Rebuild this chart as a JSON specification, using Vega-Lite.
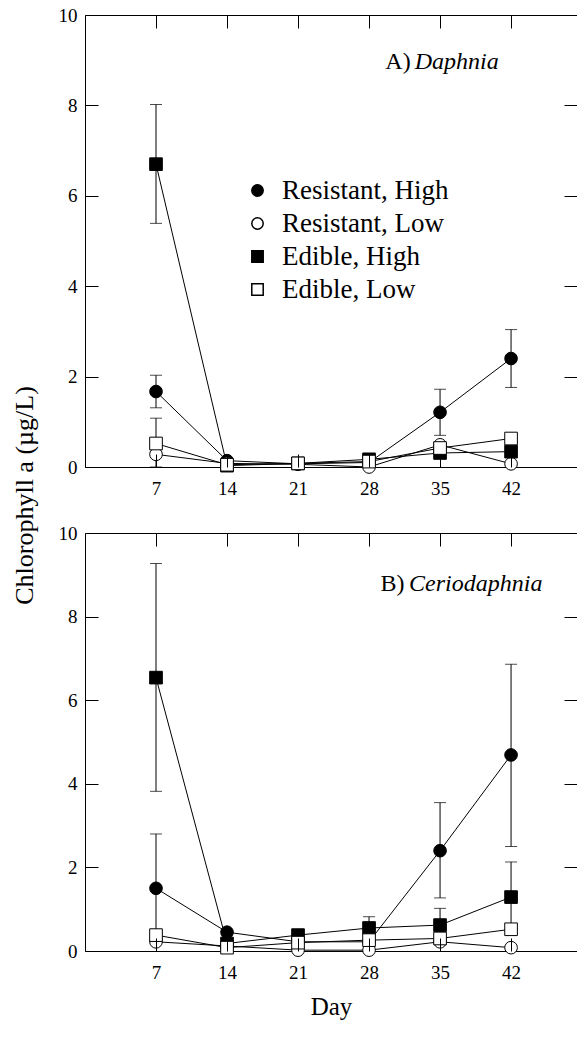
{
  "$schema": "https://vega.github.io/schema/vega-lite/v6.json",
  "background": "white",
  "padding": {"left": 10, "top": 5, "right": 0, "bottom": 5},
  "bounds": "flush",
  "spacing": 66,
  "config": {
    "view": {"stroke": "black", "strokeWidth": 1},
    "axis": {
      "grid": false,
      "domain": false,
      "tickColor": "black",
      "labelColor": "black",
      "titleColor": "black",
      "labelFont": "Liberation Serif",
      "titleFont": "Liberation Serif",
      "labelFontSize": 19,
      "titleFontSize": 26,
      "titleFontWeight": "normal"
    },
    "text": {"font": "Liberation Serif", "color": "black"}
  },
  "datasets": {
    "daphnia": [
      {"day": 7, "group": "Resistant, High", "value": 1.67, "lo": 1.31, "hi": 2.03},
      {"day": 14, "group": "Resistant, High", "value": 0.14},
      {"day": 21, "group": "Resistant, High", "value": 0.07},
      {"day": 28, "group": "Resistant, High", "value": 0.1},
      {"day": 35, "group": "Resistant, High", "value": 1.21, "lo": 0.7, "hi": 1.72},
      {"day": 42, "group": "Resistant, High", "value": 2.4, "lo": 1.76, "hi": 3.04},
      {"day": 7, "group": "Resistant, Low", "value": 0.28},
      {"day": 14, "group": "Resistant, Low", "value": 0.08},
      {"day": 21, "group": "Resistant, Low", "value": 0.06},
      {"day": 28, "group": "Resistant, Low", "value": 0.0},
      {"day": 35, "group": "Resistant, Low", "value": 0.49},
      {"day": 42, "group": "Resistant, Low", "value": 0.07},
      {"day": 7, "group": "Edible, High", "value": 6.7, "lo": 5.39, "hi": 8.02},
      {"day": 14, "group": "Edible, High", "value": 0.03},
      {"day": 21, "group": "Edible, High", "value": 0.08},
      {"day": 28, "group": "Edible, High", "value": 0.17},
      {"day": 35, "group": "Edible, High", "value": 0.31},
      {"day": 42, "group": "Edible, High", "value": 0.34},
      {"day": 7, "group": "Edible, Low", "value": 0.52, "lo": 0.0, "hi": 1.08},
      {"day": 14, "group": "Edible, Low", "value": 0.05},
      {"day": 21, "group": "Edible, Low", "value": 0.08},
      {"day": 28, "group": "Edible, Low", "value": 0.12},
      {"day": 35, "group": "Edible, Low", "value": 0.42},
      {"day": 42, "group": "Edible, Low", "value": 0.63}
    ],
    "cerio": [
      {"day": 7, "group": "Resistant, High", "value": 1.5, "lo": 0.22, "hi": 2.8},
      {"day": 14, "group": "Resistant, High", "value": 0.45},
      {"day": 21, "group": "Resistant, High", "value": 0.22},
      {"day": 28, "group": "Resistant, High", "value": 0.22},
      {"day": 35, "group": "Resistant, High", "value": 2.4, "lo": 1.27, "hi": 3.55},
      {"day": 42, "group": "Resistant, High", "value": 4.69, "lo": 2.5, "hi": 6.86},
      {"day": 7, "group": "Resistant, Low", "value": 0.22},
      {"day": 14, "group": "Resistant, Low", "value": 0.12},
      {"day": 21, "group": "Resistant, Low", "value": 0.02},
      {"day": 28, "group": "Resistant, Low", "value": 0.02},
      {"day": 35, "group": "Resistant, Low", "value": 0.22},
      {"day": 42, "group": "Resistant, Low", "value": 0.08},
      {"day": 7, "group": "Edible, High", "value": 6.54, "lo": 3.82, "hi": 9.27},
      {"day": 14, "group": "Edible, High", "value": 0.18},
      {"day": 21, "group": "Edible, High", "value": 0.38},
      {"day": 28, "group": "Edible, High", "value": 0.55, "lo": 0.28, "hi": 0.82},
      {"day": 35, "group": "Edible, High", "value": 0.62, "lo": 0.24, "hi": 1.02},
      {"day": 42, "group": "Edible, High", "value": 1.29, "lo": 0.45, "hi": 2.13},
      {"day": 7, "group": "Edible, Low", "value": 0.38},
      {"day": 14, "group": "Edible, Low", "value": 0.08},
      {"day": 21, "group": "Edible, Low", "value": 0.2},
      {"day": 28, "group": "Edible, Low", "value": 0.26},
      {"day": 35, "group": "Edible, Low", "value": 0.3},
      {"day": 42, "group": "Edible, Low", "value": 0.52}
    ]
  },
  "resolve": {"scale": {"shape": "independent", "fill": "independent"}},
  "vconcat": [
    {
      "width": 492,
      "height": 452,
      "data": {"name": "daphnia"},
      "resolve": {"axis": {"x": "independent", "y": "independent"}},
      "layer": [
        {
          "mark": {"type": "line", "color": "black", "strokeWidth": 1},
          "encoding": {
            "x": {"field": "day", "type": "quantitative", "scale": {"domain": [0, 48.5], "nice": false},
                  "axis": {"values": [7, 14, 21, 28, 35, 42], "title": null, "zindex": 1, "tickSize": -13, "tickColor": "black", "tickWidth": 1, "labelPadding": 25}},
            "y": {"field": "value", "type": "quantitative", "scale": {"domain": [0, 10], "nice": false},
                  "axis": {"values": [0, 2, 4, 6, 8, 10], "title": "Chlorophyll a (µg/L)", "zindex": 1, "tickSize": -13, "tickColor": "black", "tickWidth": 1, "labelPadding": 21, "titleX": -48, "titleY": 480}},
            "detail": {"field": "group"}
          }
        },
        {
          "mark": {"type": "rule", "color": "black", "strokeWidth": 1},
          "encoding": {
            "x": {"field": "day", "type": "quantitative",
                  "axis": {"orient": "bottom", "offset": -452, "zindex": 1, "values": [7, 14, 21, 28, 35, 42], "labels": false, "title": null, "tickSize": 13, "tickColor": "black", "tickWidth": 1}},
            "y": {"field": "lo", "type": "quantitative",
                  "axis": {"orient": "left", "offset": -492, "zindex": 1, "values": [2, 4, 6, 8], "labels": false, "title": null, "tickSize": 13, "tickColor": "black", "tickWidth": 1}},
            "y2": {"field": "hi"}
          }
        },
        {
          "mark": {"type": "tick", "orient": "horizontal", "color": "black", "size": 12, "thickness": 1},
          "encoding": {
            "x": {"field": "day", "type": "quantitative", "axis": null},
            "y": {"field": "hi", "type": "quantitative", "axis": null}
          }
        },
        {
          "mark": {"type": "tick", "orient": "horizontal", "color": "black", "size": 12, "thickness": 1},
          "encoding": {
            "x": {"field": "day", "type": "quantitative", "axis": null},
            "y": {"field": "lo", "type": "quantitative", "axis": null}
          }
        },
        {
          "mark": {"type": "point", "stroke": "black", "strokeWidth": 1, "opacity": 1, "size": 160},
          "encoding": {
            "x": {"field": "day", "type": "quantitative", "axis": null},
            "y": {"field": "value", "type": "quantitative", "axis": null},
            "shape": {"field": "group", "type": "nominal",
                      "scale": {"domain": ["Resistant, High", "Resistant, Low", "Edible, High", "Edible, Low"], "range": ["circle", "circle", "square", "square"]},
                      "legend": {"orient": "none", "legendX": 159, "legendY": 162, "title": null, "labelFont": "Liberation Serif", "labelFontSize": 27, "labelColor": "black", "labelLimit": 400, "symbolSize": 130, "labelOffset": 11, "rowPadding": 5,
                                 "encode": {"symbols": {"update": {"stroke": {"value": "black"}, "strokeWidth": {"value": 1}}}}}},
            "fill": {"field": "group", "type": "nominal",
                     "scale": {"domain": ["Resistant, High", "Resistant, Low", "Edible, High", "Edible, Low"], "range": ["black", "white", "black", "white"]},
                     "legend": {"orient": "none", "legendX": 159, "legendY": 162, "title": null, "labelFont": "Liberation Serif", "labelFontSize": 27, "labelColor": "black", "labelLimit": 400, "symbolSize": 130, "labelOffset": 11, "rowPadding": 5,
                                "encode": {"symbols": {"update": {"stroke": {"value": "black"}, "strokeWidth": {"value": 1}}}}}}
          }
        },
        {
          "data": {"values": [{}]},
          "mark": {"type": "text", "align": "right", "baseline": "middle", "fontSize": 24},
          "encoding": {
            "x": {"datum": 32.1, "type": "quantitative", "axis": null},
            "y": {"datum": 8.96, "type": "quantitative", "axis": null},
            "text": {"value": "A)"}
          }
        },
        {
          "data": {"values": [{}]},
          "mark": {"type": "text", "align": "left", "baseline": "middle", "fontSize": 24, "fontStyle": "italic"},
          "encoding": {
            "x": {"datum": 32.5, "type": "quantitative", "axis": null},
            "y": {"datum": 8.96, "type": "quantitative", "axis": null},
            "text": {"value": "Daphnia"}
          }
        }
      ]
    },
    {
      "width": 492,
      "height": 418,
      "data": {"name": "cerio"},
      "resolve": {"axis": {"x": "independent", "y": "independent"}},
      "layer": [
        {
          "mark": {"type": "line", "color": "black", "strokeWidth": 1},
          "encoding": {
            "x": {"field": "day", "type": "quantitative", "scale": {"domain": [0, 48.5], "nice": false},
                  "axis": {"values": [7, 14, 21, 28, 35, 42], "title": "Day", "titleFontSize": 25, "zindex": 1, "tickSize": -13, "tickColor": "black", "tickWidth": 1, "labelPadding": 25, "titlePadding": 12}},
            "y": {"field": "value", "type": "quantitative", "scale": {"domain": [0, 10], "nice": false},
                  "axis": {"values": [0, 2, 4, 6, 8, 10], "title": null, "zindex": 1, "tickSize": -13, "tickColor": "black", "tickWidth": 1, "labelPadding": 21}},
            "detail": {"field": "group"}
          }
        },
        {
          "mark": {"type": "rule", "color": "black", "strokeWidth": 1},
          "encoding": {
            "x": {"field": "day", "type": "quantitative",
                  "axis": {"orient": "bottom", "offset": -418, "zindex": 1, "values": [7, 14, 21, 28, 35, 42], "labels": false, "title": null, "tickSize": 13, "tickColor": "black", "tickWidth": 1}},
            "y": {"field": "lo", "type": "quantitative",
                  "axis": {"orient": "left", "offset": -492, "zindex": 1, "values": [2, 4, 6, 8], "labels": false, "title": null, "tickSize": 13, "tickColor": "black", "tickWidth": 1}},
            "y2": {"field": "hi"}
          }
        },
        {
          "mark": {"type": "tick", "orient": "horizontal", "color": "black", "size": 12, "thickness": 1},
          "encoding": {
            "x": {"field": "day", "type": "quantitative", "axis": null},
            "y": {"field": "hi", "type": "quantitative", "axis": null}
          }
        },
        {
          "mark": {"type": "tick", "orient": "horizontal", "color": "black", "size": 12, "thickness": 1},
          "encoding": {
            "x": {"field": "day", "type": "quantitative", "axis": null},
            "y": {"field": "lo", "type": "quantitative", "axis": null}
          }
        },
        {
          "mark": {"type": "point", "stroke": "black", "strokeWidth": 1, "opacity": 1, "size": 160},
          "encoding": {
            "x": {"field": "day", "type": "quantitative", "axis": null},
            "y": {"field": "value", "type": "quantitative", "axis": null},
            "shape": {"field": "group", "type": "nominal",
                      "scale": {"domain": ["Resistant, High", "Resistant, Low", "Edible, High", "Edible, Low"], "range": ["circle", "circle", "square", "square"]},
                      "legend": null},
            "fill": {"field": "group", "type": "nominal",
                     "scale": {"domain": ["Resistant, High", "Resistant, Low", "Edible, High", "Edible, Low"], "range": ["black", "white", "black", "white"]},
                     "legend": null}
          }
        },
        {
          "data": {"values": [{}]},
          "mark": {"type": "text", "align": "right", "baseline": "middle", "fontSize": 24},
          "encoding": {
            "x": {"datum": 31.5, "type": "quantitative", "axis": null},
            "y": {"datum": 8.77, "type": "quantitative", "axis": null},
            "text": {"value": "B)"}
          }
        },
        {
          "data": {"values": [{}]},
          "mark": {"type": "text", "align": "left", "baseline": "middle", "fontSize": 24, "fontStyle": "italic"},
          "encoding": {
            "x": {"datum": 31.95, "type": "quantitative", "axis": null},
            "y": {"datum": 8.77, "type": "quantitative", "axis": null},
            "text": {"value": "Ceriodaphnia"}
          }
        }
      ]
    }
  ]
}
